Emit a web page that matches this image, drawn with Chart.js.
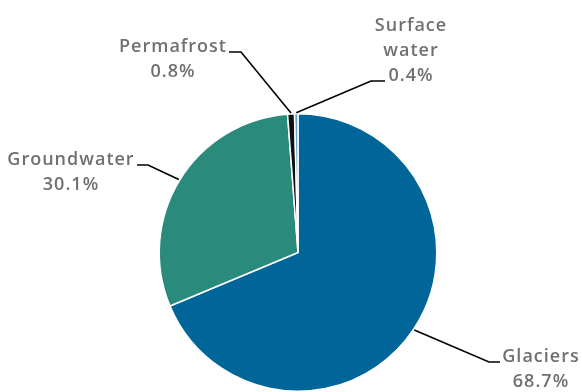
<!DOCTYPE html>
<html>
<head>
<meta charset="utf-8">
<script src="https://cdn.jsdelivr.net/npm/chart.js@4.4.1/dist/chart.umd.min.js"></script>
<style>
  html, body { margin: 0; padding: 0; background: #ffffff; }
  #wrap { width: 582px; height: 392px; }
</style>
</head>
<body>
<div id="wrap"><canvas id="waterChart" width="582" height="392"></canvas></div>
<script>
// Datos del gráfico
const categories = ['Glaciers', 'Groundwater', 'Permafrost', 'Surface water'];
const shares = [68.7, 30.1, 0.8, 0.4];
const labelNames = [['Glaciers'], ['Groundwater'], ['Permafrost'], ['Surface', 'water']];
const sliceColors = ['#006699', '#2a8a7c', '#111111', '#6aa6d6'];

// Posición de cada etiqueta: texto (centro x, primera línea base y), codo y final de la línea guía
const labelLayout = [
    { tx: 541, ty: 362, elbow: [489, 362], end: [500, 362] },
    { tx: 71, ty: 165, elbow: [148, 165], end: [137, 165] },
    { tx: 173, ty: 52, elbow: [241, 52], end: [229, 52] },
    { tx: 411, ty: 31, elbow: [371, 81], end: [385, 81] }
];

// Plugin para dibujar etiquetas externas con líneas guía
const outerLabels = {
    id: 'outerLabels',
    afterDatasetsDraw(chart) {
        const ctx = chart.ctx;
        const meta = chart.getDatasetMeta(0);
        ctx.save();
        meta.data.forEach((arc, i) => {
            const p = arc.getProps(['x', 'y', 'startAngle', 'endAngle', 'outerRadius'], true);
            const mid = (p.startAngle + p.endAngle) / 2;
            const ax = p.x + Math.cos(mid) * (p.outerRadius + 1);
            const ay = p.y + Math.sin(mid) * (p.outerRadius + 1);
            const lay = labelLayout[i];

            // Línea guía
            ctx.strokeStyle = '#000000';
            ctx.lineWidth = 1.6;
            ctx.beginPath();
            ctx.moveTo(ax, ay);
            ctx.lineTo(lay.elbow[0], lay.elbow[1]);
            ctx.lineTo(lay.end[0], lay.end[1]);
            ctx.stroke();

            // Texto
            ctx.fillStyle = '#707070';
            ctx.font = '600 18px "Open Sans", sans-serif';
            ctx.letterSpacing = '1px';
            ctx.textAlign = 'center';
            ctx.textBaseline = 'alphabetic';
            const lines = labelNames[i].concat([shares[i].toFixed(1) + '%']);
            lines.forEach((txt, k) => {
                ctx.fillText(txt, lay.tx, lay.ty + k * 25);
            });
        });
        ctx.restore();
    }
};

const ctx = document.getElementById('waterChart').getContext('2d');
const waterChart = new Chart(ctx, {
    type: 'pie',
    data: {
        labels: categories,
        datasets: [{
            data: shares,
            backgroundColor: sliceColors,
            borderColor: '#ffffff',
            borderWidth: 1.5
        }]
    },
    options: {
        responsive: false,
        animation: false,
        layout: {
            padding: { top: 113, bottom: -3, left: 157, right: 143 }
        },
        plugins: {
            legend: { display: false },
            tooltip: { enabled: false }
        }
    },
    plugins: [outerLabels]
});
</script>
</body>
</html>
